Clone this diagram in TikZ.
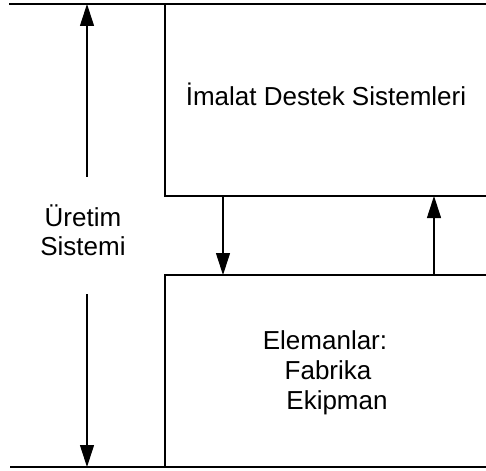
\documentclass[tikz,border=0pt]{standalone}
\usepackage{fontspec}
\setmainfont{Liberation Sans}
\usetikzlibrary{arrows.meta}
\tikzset{
  frame/.style={line width=1.6pt},
  flow/.style={line width=1.1pt, -{Triangle[length=22pt,width=14pt]}},
  lbl/.style={anchor=base, inner sep=0pt, font=\fontsize{26}{29}\selectfont},
}
\begin{document}
\begin{tikzpicture}[x=1pt,y=-1pt]
\useasboundingbox (0,0) rectangle (486,470);

% corner points of the two blocks
\coordinate (topL) at (9,4);
\coordinate (topR) at (486,4);
\coordinate (upTL) at (165,4);
\coordinate (upBL) at (165,196);
\coordinate (upBR) at (486,196);
\coordinate (loTL) at (165,275);
\coordinate (loTR) at (486,275);
\coordinate (loBL) at (165,467);
\coordinate (botL) at (10,467);
\coordinate (botR) at (486,467);

% outer rules and block outlines
\draw[frame] (topL) -- (topR);
\draw[frame] (botL) -- (botR);
\draw[frame] (upTL) -- (upBL) -- (upBR);
\draw[frame] (loTR) -- (loTL) -- (loBL);

% labels
\node[lbl] (mds) at (326,106) {İmalat Destek Sistemleri};
\node[lbl] (ur1) at (83,226) {Üretim};
\node[lbl] (ur2) at (83,255) {Sistemi};
\node[lbl] (el1) at (325,349) {Elemanlar:};
\node[lbl] (el2) at (328,379) {Fabrika};
\node[lbl] (el3) at (337,409) {Ekipman};

% span arrows of the production system
\coordinate (spanUp) at (87,177);
\coordinate (spanUpEnd) at (87,4);
\coordinate (spanDn) at (87,294);
\coordinate (spanDnEnd) at (87,467);
\draw[flow] (spanUp) -- (spanUpEnd);
\draw[flow] (spanDn) -- (spanDnEnd);

% exchange between the two blocks
\coordinate (dnA) at (223,196);
\coordinate (dnB) at (223,275);
\coordinate (upA) at (434,275);
\coordinate (upB) at (434,196);
\draw[flow] (dnA) -- (dnB);
\draw[flow] (upA) -- (upB);
\end{tikzpicture}
\end{document}
